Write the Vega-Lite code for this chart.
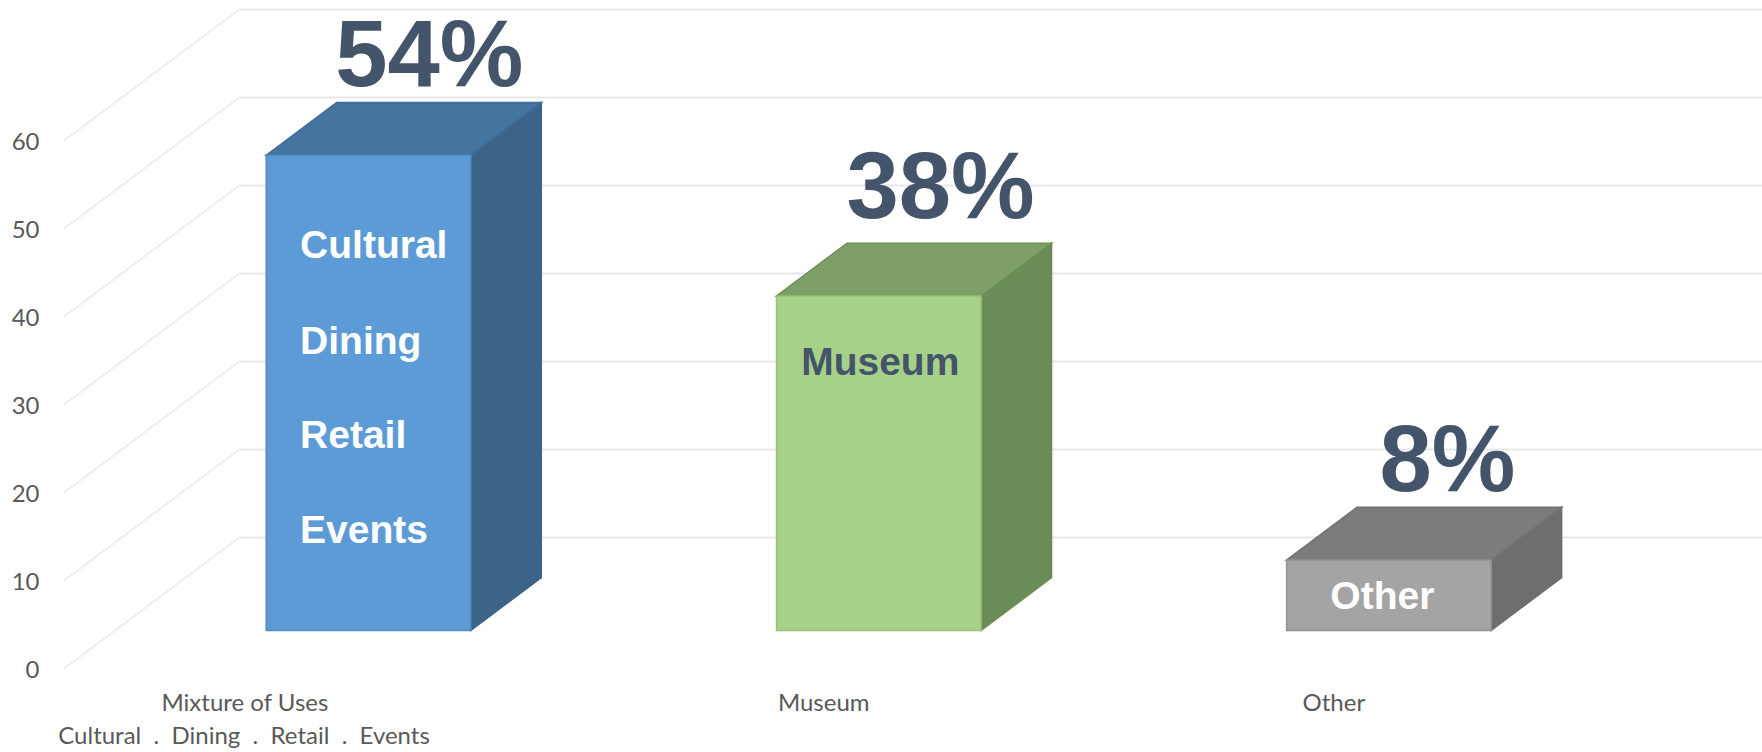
{
  "$schema": "https://vega.github.io/schema/vega-lite/v6.json",
  "width": 1762,
  "height": 752,
  "padding": 0,
  "autosize": {"type": "none"},
  "background": "white",
  "config": {"view": {"stroke": null}},
  "resolve": {"scale": {"y": "independent", "fill": "independent", "stroke": "independent", "color": "independent"}},
  "datasets": {
    "wallLines": [
      {"tick": 0, "pos": 13.58, "level": 14.9}, {"tick": 0, "pos": 100, "level": 14.9},
      {"tick": 10, "pos": 13.58, "level": 24.9}, {"tick": 10, "pos": 100, "level": 24.9},
      {"tick": 20, "pos": 13.58, "level": 34.9}, {"tick": 20, "pos": 100, "level": 34.9},
      {"tick": 30, "pos": 13.58, "level": 44.9}, {"tick": 30, "pos": 100, "level": 44.9},
      {"tick": 40, "pos": 13.58, "level": 54.9}, {"tick": 40, "pos": 100, "level": 54.9},
      {"tick": 50, "pos": 13.58, "level": 64.9}, {"tick": 50, "pos": 100, "level": 64.9},
      {"tick": 60, "pos": 13.58, "level": 74.9}, {"tick": 60, "pos": 100, "level": 74.9}
    ],
    "depthLines": [
      {"tick": 0, "pos": 3.64, "level": 0}, {"tick": 0, "pos": 13.58, "level": 14.9},
      {"tick": 10, "pos": 3.64, "level": 10}, {"tick": 10, "pos": 13.58, "level": 24.9},
      {"tick": 20, "pos": 3.64, "level": 20}, {"tick": 20, "pos": 13.58, "level": 34.9},
      {"tick": 30, "pos": 3.64, "level": 30}, {"tick": 30, "pos": 13.58, "level": 44.9},
      {"tick": 40, "pos": 3.64, "level": 40}, {"tick": 40, "pos": 13.58, "level": 54.9},
      {"tick": 50, "pos": 3.64, "level": 50}, {"tick": 50, "pos": 13.58, "level": 64.9},
      {"tick": 60, "pos": 3.64, "level": 60}, {"tick": 60, "pos": 13.58, "level": 74.9}
    ],
    "fronts": [
      {"category": "Mixture of Uses", "left": 15.11, "right": 26.72, "value": 54},
      {"category": "Museum", "left": 44.07, "right": 55.68, "value": 38},
      {"category": "Other", "left": 73.02, "right": 84.63, "value": 8}
    ],
    "sides": [
      {"category": "Mixture of Uses", "pos": 26.72, "low": 0, "high": 54},
      {"category": "Mixture of Uses", "pos": 30.72, "low": 6, "high": 60},
      {"category": "Museum", "pos": 55.68, "low": 0, "high": 38},
      {"category": "Museum", "pos": 59.68, "low": 6, "high": 44},
      {"category": "Other", "pos": 84.63, "low": 0, "high": 8},
      {"category": "Other", "pos": 88.63, "low": 6, "high": 14}
    ],
    "tops": [
      {"category": "Mixture of Uses", "pos": 15.11, "low": 54, "high": 54},
      {"category": "Mixture of Uses", "pos": 19.11, "low": 54, "high": 60},
      {"category": "Mixture of Uses", "pos": 26.72, "low": 54, "high": 60},
      {"category": "Mixture of Uses", "pos": 30.72, "low": 60, "high": 60},
      {"category": "Museum", "pos": 44.07, "low": 38, "high": 38},
      {"category": "Museum", "pos": 48.07, "low": 38, "high": 44},
      {"category": "Museum", "pos": 55.68, "low": 38, "high": 44},
      {"category": "Museum", "pos": 59.68, "low": 44, "high": 44},
      {"category": "Other", "pos": 73.02, "low": 8, "high": 8},
      {"category": "Other", "pos": 77.02, "low": 8, "high": 14},
      {"category": "Other", "pos": 84.63, "low": 8, "high": 14},
      {"category": "Other", "pos": 88.63, "low": 14, "high": 14}
    ],
    "shares": [
      {"label": "54%", "pos": 24.36, "level": 61.9},
      {"label": "38%", "pos": 53.38, "level": 46.9},
      {"label": "8%", "pos": 82.14, "level": 15.85}
    ],
    "barText": [
      {"label": "Cultural", "pos": 17.03, "level": 42.3, "tone": "light"},
      {"label": "Dining", "pos": 17.03, "level": 31.4, "tone": "light"},
      {"label": "Retail", "pos": 17.03, "level": 20.7, "tone": "light"},
      {"label": "Events", "pos": 17.03, "level": 9.95, "tone": "light"},
      {"label": "Museum", "pos": 45.47, "level": 29, "tone": "dark"},
      {"label": "Other", "pos": 75.5, "level": 2.4, "tone": "light"}
    ],
    "categoryText": [
      {"label": "Mixture of Uses", "pos": 13.9, "level": -4.05},
      {"label": "Cultural\u00a0\u00a0.\u00a0\u00a0Dining\u00a0\u00a0.\u00a0\u00a0Retail\u00a0\u00a0.\u00a0\u00a0Events", "pos": 13.85, "level": -7.75},
      {"label": "Museum", "pos": 46.75, "level": -4.05},
      {"label": "Other", "pos": 75.7, "level": -4.05}
    ]
  },
  "layer": [
    {
      "data": {"name": "depthLines"},
      "mark": {"type": "line", "color": "#EAEAEA", "strokeWidth": 1.4},
      "encoding": {
        "x": {"field": "pos", "type": "quantitative", "scale": {"domain": [0, 100]}, "axis": null},
        "y": {
          "field": "level", "type": "quantitative",
          "scale": {"domain": [-9.48, 75.98]},
          "axis": {
            "orient": "left", "offset": -41, "values": [0, 10, 20, 30, 40, 50, 60],
            "title": null, "domain": false, "ticks": false, "grid": false,
            "labelPadding": 2, "labelOffset": 2, "labelFont": "Lato", "labelFontSize": 24, "labelColor": "#595959"
          }
        },
        "detail": {"field": "tick"},
        "order": {"field": "pos"}
      }
    },
    {
      "data": {"name": "wallLines"},
      "mark": {"type": "line", "color": "#E7E7E7", "strokeWidth": 2},
      "encoding": {
        "x": {"field": "pos", "type": "quantitative", "scale": {"domain": [0, 100]}, "axis": null},
        "y": {"field": "level", "type": "quantitative", "scale": {"domain": [-9.48, 75.98]}, "axis": null},
        "detail": {"field": "tick"},
        "order": {"field": "pos"}
      }
    },
    {
      "data": {"name": "sides"},
      "mark": {"type": "area", "strokeWidth": 1.5},
      "encoding": {
        "x": {"field": "pos", "type": "quantitative", "scale": {"domain": [0, 100]}, "axis": null},
        "y": {"field": "low", "type": "quantitative", "scale": {"domain": [-13.82, 71.64]}, "axis": null},
        "y2": {"field": "high"},
        "fill": {"field": "category", "type": "nominal", "legend": null,
          "scale": {"domain": ["Mixture of Uses", "Museum", "Other"], "range": ["#3B6488", "#6A8C57", "#6E6E6E"]}},
        "stroke": {"field": "category", "type": "nominal", "legend": null,
          "scale": {"domain": ["Mixture of Uses", "Museum", "Other"], "range": ["#3B6488", "#6A8C57", "#6E6E6E"]}}
      }
    },
    {
      "data": {"name": "tops"},
      "mark": {"type": "area", "strokeWidth": 1.5},
      "encoding": {
        "x": {"field": "pos", "type": "quantitative", "scale": {"domain": [0, 100]}, "axis": null},
        "y": {"field": "low", "type": "quantitative", "scale": {"domain": [-13.82, 71.64]}, "axis": null},
        "y2": {"field": "high"},
        "fill": {"field": "category", "type": "nominal", "legend": null,
          "scale": {"domain": ["Mixture of Uses", "Museum", "Other"], "range": ["#4474A0", "#7F9F68", "#7C7C7C"]}},
        "stroke": {"field": "category", "type": "nominal", "legend": null,
          "scale": {"domain": ["Mixture of Uses", "Museum", "Other"], "range": ["#3F6C98", "#6C9150", "#727272"]}}
      }
    },
    {
      "data": {"name": "fronts"},
      "mark": {"type": "rect", "strokeWidth": 1.5},
      "encoding": {
        "x": {"field": "left", "type": "quantitative", "scale": {"domain": [0, 100]}, "axis": null},
        "x2": {"field": "right"},
        "y": {"field": "value", "type": "quantitative", "scale": {"domain": [-13.82, 71.64]}, "axis": null},
        "y2": {"datum": 0},
        "fill": {"field": "category", "type": "nominal", "legend": null,
          "scale": {"domain": ["Mixture of Uses", "Museum", "Other"], "range": ["#5D9BD7", "#A7D188", "#A4A4A4"]}},
        "stroke": {"field": "category", "type": "nominal", "legend": null,
          "scale": {"domain": ["Mixture of Uses", "Museum", "Other"], "range": ["#4F8BC6", "#93C373", "#939393"]}}
      }
    },
    {
      "data": {"name": "shares"},
      "mark": {"type": "text", "font": "Liberation Sans", "fontWeight": "bold", "fontSize": 94, "color": "#44546A", "align": "center", "baseline": "alphabetic"},
      "encoding": {
        "x": {"field": "pos", "type": "quantitative", "scale": {"domain": [0, 100]}, "axis": null},
        "y": {"field": "level", "type": "quantitative", "scale": {"domain": [-13.82, 71.64]}, "axis": null},
        "text": {"field": "label"}
      }
    },
    {
      "data": {"name": "barText"},
      "mark": {"type": "text", "font": "Liberation Sans", "fontWeight": "bold", "fontSize": 39, "align": "left", "baseline": "alphabetic"},
      "encoding": {
        "x": {"field": "pos", "type": "quantitative", "scale": {"domain": [0, 100]}, "axis": null},
        "y": {"field": "level", "type": "quantitative", "scale": {"domain": [-13.82, 71.64]}, "axis": null},
        "text": {"field": "label"},
        "color": {"field": "tone", "type": "nominal", "legend": null,
          "scale": {"domain": ["light", "dark"], "range": ["#FFFFFF", "#44546A"]}}
      }
    },
    {
      "data": {"name": "categoryText"},
      "mark": {"type": "text", "font": "Lato", "fontSize": 24, "color": "#595959", "align": "center", "baseline": "middle"},
      "encoding": {
        "x": {"field": "pos", "type": "quantitative", "scale": {"domain": [0, 100]}, "axis": null},
        "y": {"field": "level", "type": "quantitative", "scale": {"domain": [-9.48, 75.98]}, "axis": null},
        "text": {"field": "label"}
      }
    }
  ]
}
